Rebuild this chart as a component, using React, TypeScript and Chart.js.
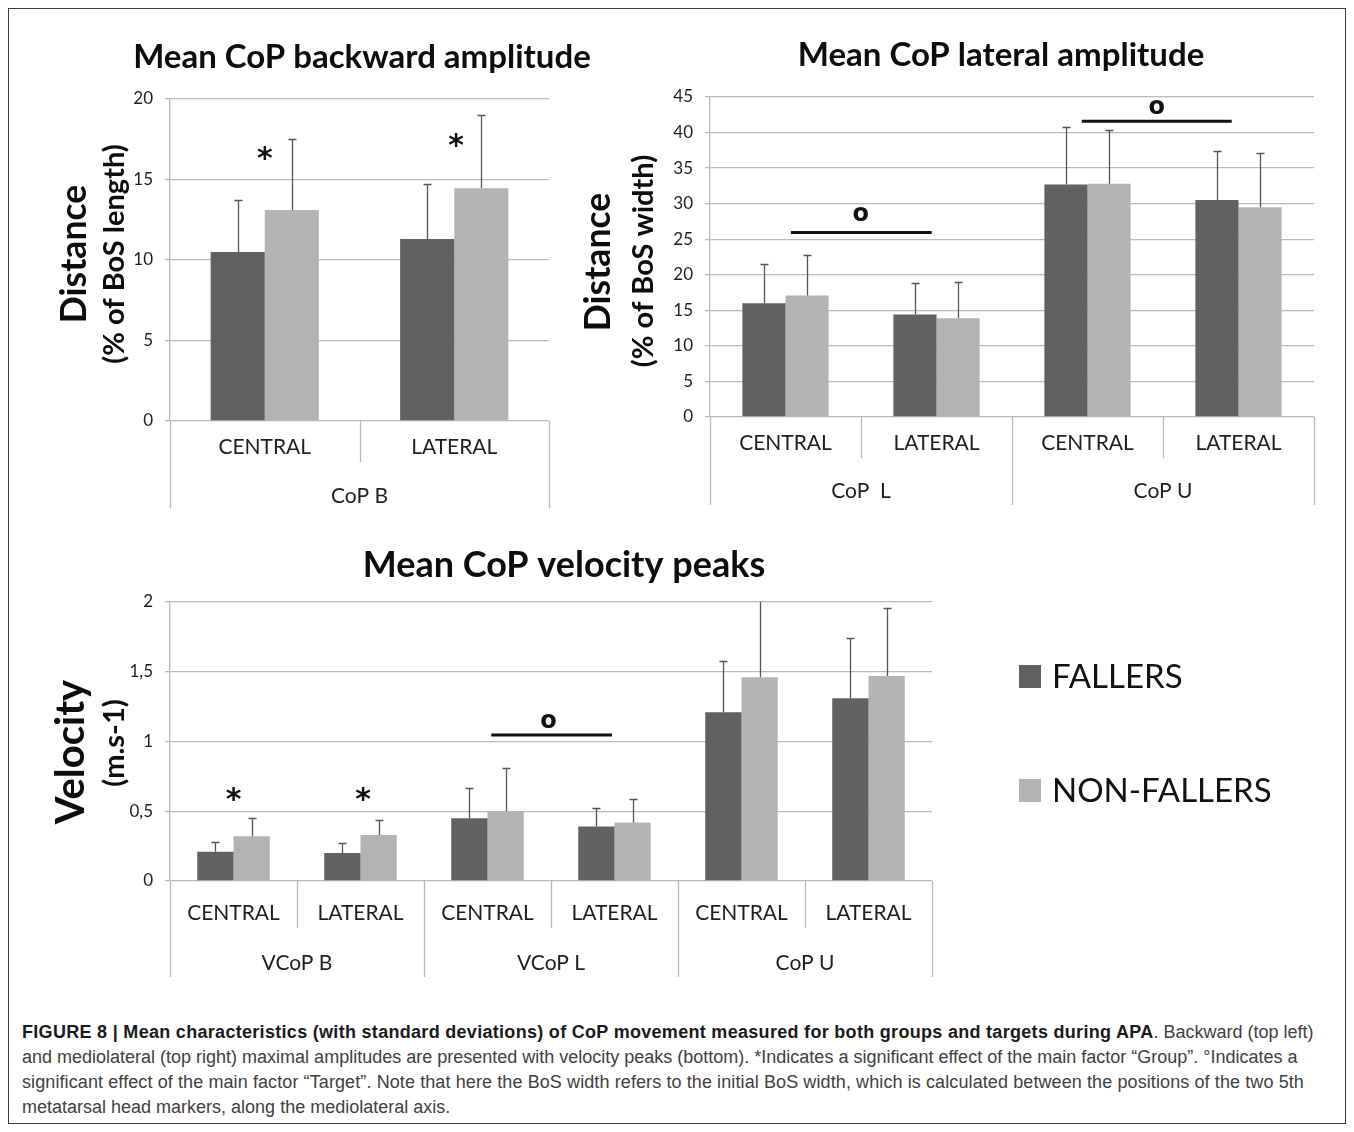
import React, { useEffect, useRef } from "react";
import { Chart, registerables } from "chart.js";

Chart.register(...registerables);

// ---------- shared ----------
const SERIES = ["FALLERS", "NON-FALLERS"];

// ---------- Mean CoP backward amplitude ----------
const backCategories = ["CENTRAL", "LATERAL"];
const backGroups = ["CoP B"];
const backGroupSpans = [2];
const backFallers = [10.5, 11.3];
const backFallersSD = [3.2, 3.4];
const backNonFallers = [13.1, 14.45];
const backNonFallersSD = [4.4, 4.55];
const backYTicks = [0, 5, 10, 15, 20];
const backYTickLabels = ["0", "5", "10", "15", "20"];
const backStarX = [0, 1.01];
const backStarY = [16.6, 17.45];

// ---------- Mean CoP lateral amplitude ----------
const latCategories = ["CENTRAL", "LATERAL", "CENTRAL", "LATERAL"];
const latGroups = ["CoP  L", "CoP U"];
const latGroupSpans = [2, 2];
const latFallers = [16.0, 14.4, 32.7, 30.5];
const latFallersSD = [5.5, 4.4, 8.1, 6.9];
const latNonFallers = [17.1, 13.9, 32.8, 29.5];
const latNonFallersSD = [5.7, 5.1, 7.6, 7.6];
const latYTicks = [0, 5, 10, 15, 20, 25, 30, 35, 40, 45];
const latYTickLabels = ["0", "5", "10", "15", "20", "25", "30", "35", "40", "45"];
const latLineFrom = [0.036, 1.962];
const latLineTo = [0.968, 2.955];
const latLineY = [25.95, 41.6];
const latCircleX = [0.498, 2.458];
const latCircleY = [28.6, 43.6];

// ---------- Mean CoP velocity peaks ----------
const velCategories = ["CENTRAL", "LATERAL", "CENTRAL", "LATERAL", "CENTRAL", "LATERAL"];
const velGroups = ["VCoP B", "VCoP L", "CoP U"];
const velGroupSpans = [2, 2, 2];
const velFallers = [0.21, 0.2, 0.45, 0.39, 1.21, 1.31];
const velFallersSD = [0.07, 0.07, 0.22, 0.13, 0.37, 0.43];
const velNonFallers = [0.32, 0.33, 0.5, 0.42, 1.46, 1.47];
const velNonFallersSD = [0.13, 0.11, 0.31, 0.17, 0.6, 0.49];
const velYTicks = [0, 0.5, 1, 1.5, 2];
const velYTickLabels = ["0", "0,5", "1", "1,5", "2"];
const velStarX = [0, 1.02];
const velStarY = [0.62, 0.62];
const velLineFrom = [2.03];
const velLineTo = [2.98];
const velLineY = [1.047];
const velCircleX = [2.48];
const velCircleY = [1.15];

// ---------- styles ----------
const FONT = "Lato, 'Open Sans', sans-serif";
const MARK_FONT = "'DejaVu Sans', Lato, sans-serif";
const DARK = "#616161";
const LIGHT = "#b3b3b3";
const GRID = "#b9b9b9";
const TEXT = "#1e1e1e";

function centerText(ctx: CanvasRenderingContext2D, text: string, x: number, y: number) {
  ctx.textAlign = "center";
  ctx.textBaseline = "alphabetic";
  const m = ctx.measureText(text);
  ctx.fillText(text, x, y + (m.actualBoundingBoxAscent - m.actualBoundingBoxDescent) / 2);
}

const decorPlugin = {
  id: "decor",
  afterDatasetsDraw(chart: any, _args: any, o: any) {
    const ctx: CanvasRenderingContext2D = chart.ctx;
    const ca = chart.chartArea;
    const xs = chart.scales.x;
    const ys = chart.scales.y;
    // error bars (upper half, as in the source)
    ctx.save();
    ctx.beginPath();
    ctx.rect(ca.left - 10, ca.top, ca.right - ca.left + 20, ca.bottom - ca.top);
    ctx.clip();
    ctx.strokeStyle = "#555555";
    ctx.lineWidth = 1.3;
    chart.data.datasets.forEach((ds: any, di: number) => {
      const meta = chart.getDatasetMeta(di);
      const sd: number[] = o.errors[di];
      meta.data.forEach((bar: any, i: number) => {
        const v = ds.data[i];
        const yTop = Math.round(ys.getPixelForValue(v + sd[i])) + 0.5;
        const yBase = ys.getPixelForValue(v);
        const x = Math.round(bar.x) + 0.5;
        ctx.beginPath();
        ctx.moveTo(x, yBase);
        ctx.lineTo(x, yTop);
        ctx.moveTo(x - 4, yTop);
        ctx.lineTo(x + 4, yTop);
        ctx.stroke();
      });
    });
    ctx.restore();

    // significance marks
    ctx.save();
    ctx.fillStyle = "#111111";
    ctx.strokeStyle = "#111111";
    if (o.stars) {
      ctx.font = `bold 30px ${MARK_FONT}`;
      o.stars.x.forEach((sx: number, i: number) => {
        centerText(ctx, "*", xs.getPixelForValue(sx), ys.getPixelForValue(o.stars.y[i]));
      });
    }
    if (o.lines) {
      ctx.lineWidth = 3;
      o.lines.from.forEach((f: number, i: number) => {
        const y = ys.getPixelForValue(o.lines.y[i]);
        ctx.beginPath();
        ctx.moveTo(xs.getPixelForValue(f), y);
        ctx.lineTo(xs.getPixelForValue(o.lines.to[i]), y);
        ctx.stroke();
      });
    }
    if (o.circles) {
      ctx.font = `bold 24px ${MARK_FONT}`;
      o.circles.x.forEach((cx: number, i: number) => {
        centerText(ctx, "o", xs.getPixelForValue(cx), ys.getPixelForValue(o.circles.y[i]));
      });
    }
    ctx.restore();
  },
  afterDraw(chart: any, _args: any, o: any) {
    const ctx: CanvasRenderingContext2D = chart.ctx;
    const ca = chart.chartArea;
    const xs = chart.scales.x;
    ctx.save();
    // title
    ctx.fillStyle = "#0d0d0d";
    ctx.font = `bold ${o.title.size}px ${FONT}`;
    ctx.textAlign = "center";
    ctx.textBaseline = "alphabetic";
    ctx.fillText(o.title.text, o.title.x, o.title.y);
    // y axis titles
    o.yTitles.forEach((t: any) => {
      ctx.save();
      ctx.font = `bold ${t.size}px ${FONT}`;
      ctx.translate(t.x, t.y);
      ctx.rotate(-Math.PI / 2);
      centerText(ctx, t.text, 0, 0);
      ctx.restore();
    });
    // hierarchical category axis
    const n = chart.data.labels.length;
    const bounds = new Set<number>([0]);
    let acc = 0;
    o.groups.spans.forEach((s: number) => {
      acc += s;
      bounds.add(acc);
    });
    ctx.strokeStyle = GRID;
    ctx.lineWidth = 1.3;
    for (let b = 0; b <= n; b++) {
      const px = Math.round(xs.getPixelForValue(b - 0.5)) + 0.5;
      const len = bounds.has(b) ? o.groups.longLen : o.groups.shortLen;
      ctx.beginPath();
      ctx.moveTo(px, ca.bottom);
      ctx.lineTo(px, ca.bottom + len);
      ctx.stroke();
    }
    ctx.fillStyle = TEXT;
    ctx.font = `21px ${FONT}`;
    let start = 0;
    o.groups.labels.forEach((g: string, i: number) => {
      const span = o.groups.spans[i];
      centerText(ctx, g, xs.getPixelForValue(start + span / 2 - 0.5), ca.bottom + o.groups.labelOffset);
      start += span;
    });
    // legend
    if (o.legend) {
      ctx.font = `${o.legend.size}px ${FONT}`;
      ctx.textAlign = "left";
      ctx.textBaseline = "alphabetic";
      chart.data.datasets.forEach((ds: any, i: number) => {
        const by = o.legend.y[i];
        ctx.fillStyle = ds.backgroundColor;
        ctx.fillRect(o.legend.x, by - o.legend.box[1], o.legend.box[0], o.legend.box[1]);
        ctx.fillStyle = "#111111";
        ctx.fillText(ds.label, o.legend.x + o.legend.box[0] + 11, by);
      });
    }
    ctx.restore();
  },
};

function makeConfig(p: any) {
  return {
    type: "bar",
    data: {
      labels: p.categories,
      datasets: [
        { label: SERIES[0], data: p.fallers, backgroundColor: DARK, borderWidth: 0, categoryPercentage: 0.571, barPercentage: 1 },
        { label: SERIES[1], data: p.nonFallers, backgroundColor: LIGHT, borderWidth: 0, categoryPercentage: 0.571, barPercentage: 1 },
      ],
    },
    options: {
      responsive: false,
      maintainAspectRatio: false,
      animation: false,
      events: [],
      layout: { padding: p.padding },
      plugins: {
        legend: { display: false },
        tooltip: { enabled: false },
        title: { display: false },
        decor: p.decor,
      },
      scales: {
        x: {
          type: "category",
          offset: true,
          grid: { display: false, drawTicks: false },
          border: { display: false },
          ticks: { font: { family: FONT, size: 21 }, color: TEXT, padding: p.xPad, maxRotation: 0, autoSkip: false },
          afterFit: (s: any) => {
            s.height = p.xHeight;
          },
        },
        y: {
          min: 0,
          max: p.yTicks[p.yTicks.length - 1],
          grid: { color: GRID, lineWidth: 1.3, tickLength: 5 },
          border: { display: true, color: GRID, width: 1.3 },
          ticks: {
            font: { family: FONT, size: 17 },
            color: TEXT,
            padding: 12,
            callback: (_v: any, i: number) => p.yTickLabels[i],
          },
          afterBuildTicks: (s: any) => {
            s.ticks = p.yTicks.map((v: number) => ({ value: v }));
          },
          afterFit: (s: any) => {
            s.width = 60;
          },
        },
      },
    },
    plugins: [decorPlugin],
  };
}

function ChartCanvas({ params, left, top, width, height }: any) {
  const ref = useRef<HTMLCanvasElement>(null);
  useEffect(() => {
    const chart = new Chart(ref.current as HTMLCanvasElement, makeConfig(params) as any);
    return () => chart.destroy();
  }, []);
  return (
    <canvas
      ref={ref}
      width={width}
      height={height}
      style={{ position: "absolute", left, top, width, height }}
    />
  );
}

const backParams = {
  categories: backCategories,
  fallers: backFallers,
  nonFallers: backNonFallers,
  yTicks: backYTicks,
  yTickLabels: backYTickLabels,
  padding: { left: 90, top: 79, right: 71, bottom: 22 },
  xHeight: 87,
  xPad: 14,
  decor: {
    title: { text: "Mean CoP backward amplitude", x: 342, y: 48, size: 33 },
    yTitles: [
      { text: "Distance", x: 52, y: 234, size: 35.5 },
      { text: "(% of BoS length)", x: 95, y: 234, size: 29 },
    ],
    errors: [backFallersSD, backNonFallersSD],
    groups: { labels: backGroups, spans: backGroupSpans, shortLen: 41, longLen: 87, labelOffset: 74 },
    stars: { x: backStarX, y: backStarY },
  },
};

const latParams = {
  categories: latCategories,
  fallers: latFallers,
  nonFallers: latNonFallers,
  yTicks: latYTicks,
  yTickLabels: latYTickLabels,
  padding: { left: 80, top: 77, right: 26, bottom: 25 },
  xHeight: 88,
  xPad: 14,
  decor: {
    title: { text: "Mean CoP lateral amplitude", x: 431, y: 46, size: 33 },
    yTitles: [
      { text: "Distance", x: 26, y: 242, size: 35.5 },
      { text: "(% of BoS width)", x: 74, y: 241, size: 29 },
    ],
    errors: [latFallersSD, latNonFallersSD],
    groups: { labels: latGroups, spans: latGroupSpans, shortLen: 41, longLen: 88, labelOffset: 73 },
    lines: { from: latLineFrom, to: latLineTo, y: latLineY },
    circles: { x: latCircleX, y: latCircleY },
  },
};

const velParams = {
  categories: velCategories,
  fallers: velFallers,
  nonFallers: velNonFallers,
  yTicks: velYTicks,
  yTickLabels: velYTickLabels,
  padding: { left: 90, top: 77, right: 408, bottom: 18 },
  xHeight: 96,
  xPad: 20,
  decor: {
    title: { text: "Mean CoP velocity peaks", x: 544, y: 52, size: 36 },
    yTitles: [
      { text: "Velocity", x: 52, y: 227, size: 40 },
      { text: "(m.s-1)", x: 95, y: 218, size: 29 },
    ],
    errors: [velFallersSD, velNonFallersSD],
    groups: { labels: velGroups, spans: velGroupSpans, shortLen: 47, longLen: 96, labelOffset: 81.5 },
    stars: { x: velStarX, y: velStarY },
    lines: { from: velLineFrom, to: velLineTo, y: velLineY },
    circles: { x: velCircleX, y: velCircleY },
    legend: { x: 999, y: [163, 277], box: [22, 23], size: 33 },
  },
};

export default function App() {
  return (
    <div style={{ position: "relative", width: 1338, height: 1116, background: "#ffffff" }}>
      <div
        style={{
          position: "absolute",
          left: 0,
          top: 0,
          width: 1338,
          height: 1116,
          border: "1px solid #3c3c3c",
          boxSizing: "border-box",
        }}
      />
      <ChartCanvas params={backParams} left={12} top={12} width={600} height={510} />
      <ChartCanvas params={latParams} left={562} top={12} width={770} height={510} />
      <ChartCanvas params={velParams} left={12} top={517} width={1320} height={470} />
      <div
        style={{
          position: "absolute",
          left: 14,
          top: 1012,
          fontFamily: "'Liberation Sans', Arial, sans-serif",
          fontSize: 18,
          lineHeight: "25px",
          color: "#404040",
          whiteSpace: "nowrap",
        }}
      >
        <div>
          <b style={{ color: "#1a1a1a", letterSpacing: "0.3px" }}>
            FIGURE 8 | Mean characteristics (with standard deviations) of CoP movement measured for both groups and
            targets during APA
          </b>
          . Backward (top left)
        </div>
        <div>
          and mediolateral (top right) maximal amplitudes are presented with velocity peaks (bottom). *Indicates a
          significant effect of the main factor “Group”. °Indicates a
        </div>
        <div style={{ letterSpacing: "0.1px" }}>
          significant effect of the main factor “Target”. Note that here the BoS width refers to the initial BoS width,
          which is calculated between the positions of the two 5th
        </div>
        <div>metatarsal head markers, along the mediolateral axis.</div>
      </div>
    </div>
  );
}
